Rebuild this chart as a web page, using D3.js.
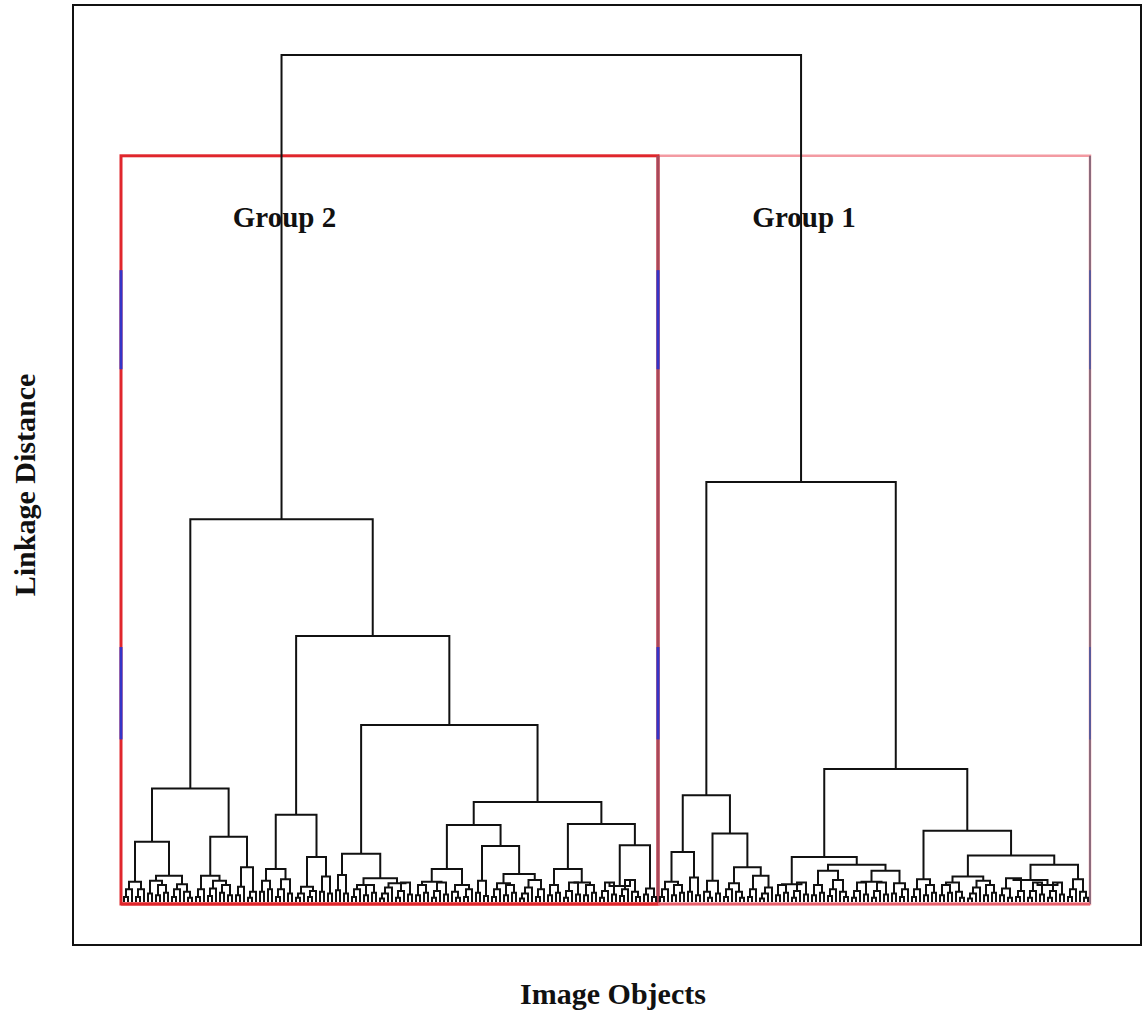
<!DOCTYPE html>
<html>
<head>
<meta charset="utf-8">
<script src="https://cdn.jsdelivr.net/npm/d3@7"></script>
<style>
  body { margin: 0; background: #fff; }
  text { font-family: "Liberation Serif", "DejaVu Serif", serif; font-weight: bold; }
</style>
</head>
<body>
<svg id="chart" width="1144" height="1014"></svg>
<script>
// small bottom clusters: [height, left, right], leaf = 0
const t2 = [1.0, 0, 0];
const t3 = [1.5, [0.6, 0, 0], 0];
const t3b = [1.2, 0, [0.5, 0, 0]];
const t4 = [2.0, [0.8, 0, 0], [1.1, 0, 0]];
const t4b = [1.7, [1.0, [0.4, 0, 0], 0], 0];
const t5 = [2.3, [1.3, [0.5, 0, 0], 0], [0.9, 0, 0]];
const t6 = [2.6, [1.5, [0.7, 0, 0], 0], [1.2, 0, [0.6, 0, 0]]];
const t7 = [2.8, [1.6, [0.8, 0, 0], [0.5, 0, 0]], [1.3, [0.6, 0, 0], 0]];

// group 2
const clusterA = [7.1, [2.4, t3, t3], [3.1, [2.5, t2, t4], [2.1, t3, t3b]]];
const clusterB = [7.7,
  [3.1, [1.5, [0.6, 0, 0], 0], [2.5, [1.6, [0.7, 0, 0], 0], [2.0, [1.1, 0, 0], [0.8, 0, 0]]]],
  [4.1, [1.8, [0.8, 0, 0], 0], [1.2, [0.5, 0, 0], 0]]];
const clusterC = [10.3,
  [3.9, [2.5, [1.2, 0, 0], [1.5, 0, 0]], [2.7, [1.5, [0.6, 0, 0], 0], [1.0, 0, 0]]],
  [5.3, [1.8, [1.0, [0.5, 0, 0], 0], [1.3, [0.6, 0, 0], 0]], [3.0, [1.2, 0, 0], [1.0, 0, 0]]]];
const clusterD1 = [5.7,
  [3.2, [1.4, 0, 0], [1.0, 0, 0]],
  [2.8, [2.0, t3, t4], [2.2, t4b, t5]]];
const clusterD2a = [9.1,
  [3.9, [2.4, t4, t5], [2.0, t3b, t3]],
  [6.6, [2.5, [1.1, 0, 0], [0.7, 0, 0]], [3.3, [2.2, t3, t4], [2.6, t4b, t3]]]];
const clusterD2b = [9.2,
  [3.9, t4, [2.3, t5, t4]],
  [6.7, [1.9, t5, t6], [1.6, [0.9, 0, 0], [0.6, 0, 0]]]];
const group2 = [45.2,
  [13.4, clusterA, clusterB],
  [31.4, clusterC, [20.9, clusterD1, [11.8, clusterD2a, clusterD2b]]]];

// group 1
const clusterE = [12.6,
  [5.9, [2.4, t3, t4], [2.9, [1.2, 0, 0], [0.8, 0, 0]]],
  [8.1, [2.5, t3b, t2], [4.1, [2.2, t3, t3b], [3.1, t3, t4b]]]];
const clusterF1 = [5.3,
  [2.1, t4, t5],
  [4.4, [3.7, t4, t6], [3.7, [2.4, t5, t5], [2.2, t2, t3]]]];
const clusterF2 = [8.4,
  [2.7, t3, t4],
  [5.5, [3.0, [2.3, t4, t3b], [2.5, t4b, t4]],
        [4.4, [2.6, t7, [2.0, t5, t5]], [2.7, t3, t3b]]]];
const group1 = [49.6, clusterE, [15.7, clusterF1, clusterF2]];

const tree = [100, group2, group1];

const groupNames = ["Group 2", "Group 1"];
const groupTop = 88.1;
const blueBands = [[62.9, 74.6], [19.2, 30.1]];
const xTitle = "Image Objects";
const yTitle = "Linkage Distance";

const svg = d3.select("#chart");

const root = d3.hierarchy(tree, d => Array.isArray(d) ? d.slice(1) : null);
root.each(d => { d.h = Array.isArray(d.data) ? d.data[0] : 0; });
const leaves = root.leaves();
leaves.forEach((d, i) => { d.i = i; });

const x = d3.scaleLinear().domain([0, leaves.length - 1]).range([124, 1088]);
const y = d3.scaleLinear().domain([0, 100]).range([902, 55]);

root.eachAfter(d => {
  d.x = d.children ? d3.mean(d.children, c => c.x) : x(d.i);
});

// outer frame
svg.append("rect")
  .attr("x", 73).attr("y", 5).attr("width", 1068).attr("height", 940)
  .attr("fill", "none").attr("stroke", "#111").attr("stroke-width", 2);

// group boxes
const groupNodes = root.children;
const nLeft = groupNodes[0].leaves().length;
const edges = [x(-0.75), (x(nLeft - 1) + x(nLeft)) / 2, x(leaves.length - 1) + 2];
const boxBottom = y(0) + 2;

svg.append("path")
  .attr("d", `M${edges[1]},${y(groupTop)}H${edges[2]}V${boxBottom}H${edges[1]}`)
  .attr("fill", "none").attr("stroke", "#f39aa2").attr("stroke-width", 2.5);
svg.append("line")
  .attr("x1", edges[2]).attr("x2", edges[2]).attr("y1", y(groupTop)).attr("y2", boxBottom)
  .attr("stroke", "#8d6a7c").attr("stroke-width", 2);
svg.append("rect")
  .attr("x", edges[0]).attr("y", y(groupTop))
  .attr("width", edges[1] - edges[0]).attr("height", boxBottom - y(groupTop))
  .attr("fill", "none").attr("stroke", "#e0262c").attr("stroke-width", 3);
svg.append("line")
  .attr("x1", edges[1]).attr("x2", edges[1]).attr("y1", y(groupTop)).attr("y2", boxBottom)
  .attr("stroke", "#a8485a").attr("stroke-width", 3);

edges.forEach((ex, k) => {
  blueBands.forEach(b => {
    svg.append("line")
      .attr("x1", ex).attr("x2", ex).attr("y1", y(b[1])).attr("y2", y(b[0]))
      .attr("stroke", k === 2 ? "#5a5a9a" : "#3434c8").attr("stroke-width", k === 2 ? 2 : 3);
  });
});

// dendrogram links
svg.append("g")
  .selectAll("path")
  .data(root.descendants().filter(d => d.children))
  .join("path")
  .attr("d", d => {
    const [a, b] = d.children;
    return `M${a.x},${y(a.h)}V${y(d.h)}H${b.x}V${y(b.h)}`;
  })
  .attr("fill", "none")
  .attr("stroke", "#111")
  .attr("stroke-width", 2);

// red bottom line over leaves
svg.append("line")
  .attr("x1", edges[0]).attr("x2", edges[1]).attr("y1", boxBottom).attr("y2", boxBottom)
  .attr("stroke", "#e0262c").attr("stroke-width", 3);
svg.append("line")
  .attr("x1", edges[1]).attr("x2", edges[2]).attr("y1", boxBottom).attr("y2", boxBottom)
  .attr("stroke", "#e8606c").attr("stroke-width", 3);

// group labels
svg.selectAll("text.group")
  .data(groupNodes)
  .join("text")
  .attr("class", "group")
  .attr("x", d => d.x + 3)
  .attr("y", 227)
  .attr("text-anchor", "middle")
  .attr("font-size", 29)
  .attr("fill", "#111")
  .text((d, i) => groupNames[i]);

svg.append("text")
  .attr("x", 613).attr("y", 1004)
  .attr("text-anchor", "middle").attr("font-size", 30).attr("fill", "#111")
  .text(xTitle);

svg.append("text")
  .attr("transform", "translate(35,485) rotate(-90)")
  .attr("text-anchor", "middle").attr("font-size", 30).attr("fill", "#111")
  .text(yTitle);
</script>
</body>
</html>
